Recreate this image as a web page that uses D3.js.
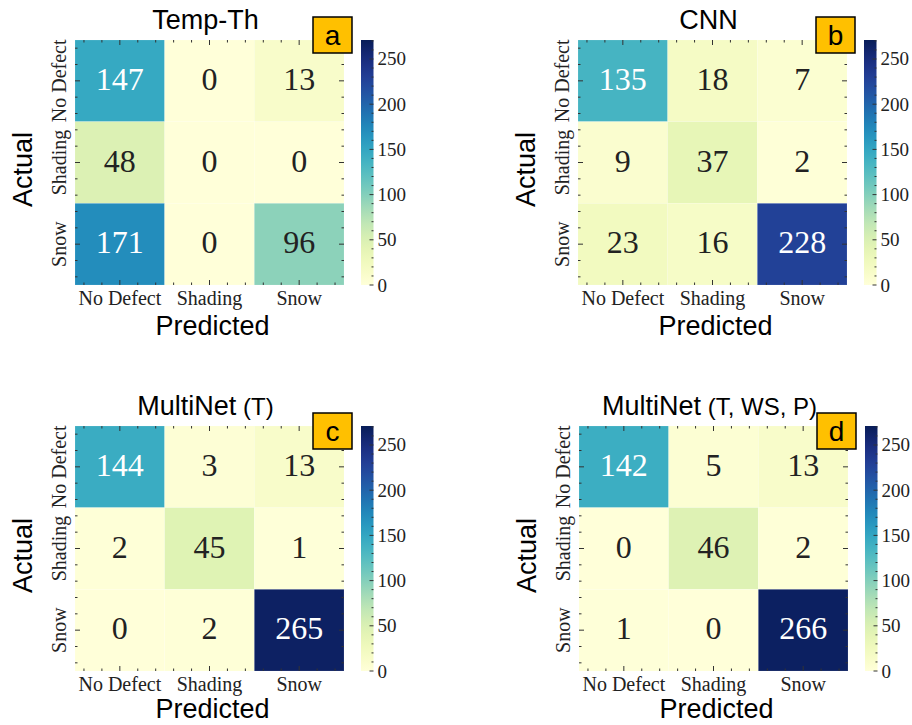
<!DOCTYPE html>
<html>
<head>
<meta charset="utf-8">
<script src="https://cdn.jsdelivr.net/npm/d3@7"></script>
<style>
  html, body { margin: 0; padding: 0; background: #fff; }
  svg { display: block; }
  .num { font-family: "Liberation Serif", serif; }
  .tick-label { font-family: "Liberation Serif", serif; fill: #222; }
  .ax-title { font-family: "Liberation Sans", Arial, sans-serif; fill: #000; }
</style>
</head>
<body>
<div id="chart"></div>
<script>
// Class names (rows = actual, columns = predicted)
var classes = ['No Defect', 'Shading', 'Snow'];

// Confusion matrices, one per model
var cmTempTh = [[147, 0, 13], [48, 0, 0], [171, 0, 96]];
var cmCNN = [[135, 18, 7], [9, 37, 2], [23, 16, 228]];
var cmMultiNetT = [[144, 3, 13], [2, 45, 1], [0, 2, 265]];
var cmMultiNetTWSP = [[142, 5, 13], [0, 46, 2], [1, 0, 266]];

var titleMain = ['Temp-Th', 'CNN', 'MultiNet', 'MultiNet'];
var titleSub = ['', '', '(T)', '(T, WS, P)'];
var panelTags = ['a', 'b', 'c', 'd'];
var matrices = [cmTempTh, cmCNN, cmMultiNetT, cmMultiNetTWSP];

var colorbarTicks = [0, 50, 100, 150, 200, 250];
var colorMax = 271;

// layout (heatmap top-left corner of each panel)
var layout = [
  {x: 75, y: 40, tagDy: -23},
  {x: 578, y: 40, tagDy: -23},
  {x: 75, y: 426, tagDy: -13},
  {x: 579, y: 426, tagDy: -13}
];

var W = 912, H = 725;
var hmW = 269, hmH = 245;

var svg = d3.select('#chart').append('svg')
  .attr('width', W)
  .attr('height', H);

var color = d3.scaleSequential(d3.interpolateYlGnBu).domain([0, colorMax]);

function luminance(c) {
  var rgb = d3.rgb(c);
  function f(v) {
    v = v / 255;
    return v <= 0.03928 ? v / 12.92 : Math.pow((v + 0.055) / 1.055, 2.4);
  }
  return 0.2126 * f(rgb.r) + 0.7152 * f(rgb.g) + 0.0722 * f(rgb.b);
}

// shared gradient for the colorbars
var defs = svg.append('defs');
var grad = defs.append('linearGradient')
  .attr('id', 'cbar-grad')
  .attr('x1', 0).attr('y1', 1).attr('x2', 0).attr('y2', 0);
d3.range(0, 1.0001, 0.05).forEach(function(t) {
  grad.append('stop')
    .attr('offset', t)
    .attr('stop-color', color(t * colorMax));
});

matrices.forEach(function(cm, idx) {
  var pos = layout[idx];
  var g = svg.append('g')
    .attr('transform', 'translate(' + pos.x + ',' + pos.y + ')');

  var x = d3.scaleBand().domain(classes).range([0, hmW]);
  var y = d3.scaleBand().domain(classes).range([0, hmH]);

  var cells = [];
  cm.forEach(function(row, ri) {
    row.forEach(function(v, ci) {
      cells.push({actual: classes[ri], predicted: classes[ci], value: v});
    });
  });

  g.selectAll('rect.cell')
    .data(cells)
    .enter()
    .append('rect')
    .attr('class', 'cell')
    .attr('x', function(d) { return x(d.predicted); })
    .attr('y', function(d) { return y(d.actual); })
    .attr('width', x.bandwidth())
    .attr('height', y.bandwidth())
    .attr('fill', function(d) { return color(d.value); })
    .attr('stroke', 'rgba(255,255,255,0.25)')
    .attr('stroke-width', 0.5);

  g.selectAll('text.num')
    .data(cells)
    .enter()
    .append('text')
    .attr('class', 'num')
    .attr('x', function(d) { return x(d.predicted) + x.bandwidth() / 2; })
    .attr('y', function(d) { return y(d.actual) + y.bandwidth() / 2 - 2; })
    .attr('text-anchor', 'middle')
    .attr('dominant-baseline', 'central')
    .attr('font-size', 32)
    .attr('fill', function(d) {
      return luminance(color(d.value)) > 0.408 ? '#222' : '#fff';
    })
    .text(function(d) { return d.value; });

  // inward ticks on all four sides (major at cell centers, minor every 0.2)
  var tx = d3.scaleLinear().domain([0, classes.length]).range([0, hmW]);
  var ty = d3.scaleLinear().domain([0, classes.length]).range([0, hmH]);
  var minor = d3.range(0.1, classes.length, 0.2).filter(function(t) {
    return Math.abs((t % 1) - 0.5) > 0.01;
  });
  var major = d3.range(0.5, classes.length, 1);
  var ticks = g.append('g')
    .attr('stroke', '#333')
    .attr('stroke-width', 1);
  [[major, 5], [minor, 2.5]].forEach(function(set) {
    var len = set[1];
    set[0].forEach(function(t) {
      ticks.append('line')
        .attr('x1', tx(t)).attr('x2', tx(t)).attr('y1', 0).attr('y2', len);
      ticks.append('line')
        .attr('x1', tx(t)).attr('x2', tx(t)).attr('y1', hmH).attr('y2', hmH - len);
      ticks.append('line')
        .attr('y1', ty(t)).attr('y2', ty(t)).attr('x1', 0).attr('x2', len);
      ticks.append('line')
        .attr('y1', ty(t)).attr('y2', ty(t)).attr('x1', hmW).attr('x2', hmW - len);
    });
  });

  // column labels
  g.selectAll('text.col')
    .data(classes)
    .enter()
    .append('text')
    .attr('class', 'tick-label')
    .attr('x', function(d) { return x(d) + x.bandwidth() / 2; })
    .attr('y', hmH + 20)
    .attr('text-anchor', 'middle')
    .attr('font-size', 20)
    .text(function(d) { return d; });

  // row labels (rotated)
  g.selectAll('text.row')
    .data(classes)
    .enter()
    .append('text')
    .attr('class', 'tick-label')
    .attr('transform', function(d) {
      return 'translate(-9,' + (y(d) + y.bandwidth() / 2) + ') rotate(-90)';
    })
    .attr('text-anchor', 'middle')
    .attr('font-size', 20)
    .text(function(d) { return d; });

  // axis titles (keep the bottom row's label inside the page)
  g.append('text')
    .attr('class', 'ax-title')
    .attr('x', hmW / 2 + 3)
    .attr('y', Math.min(hmH + 50, H - pos.y - 7))
    .attr('text-anchor', 'middle')
    .attr('font-size', 27)
    .text('Predicted');

  g.append('text')
    .attr('class', 'ax-title')
    .attr('transform', 'translate(-43,' + (hmH / 2 + 7) + ') rotate(-90)')
    .attr('text-anchor', 'middle')
    .attr('font-size', 27)
    .text('Actual');

  // panel title
  var title = g.append('text')
    .attr('class', 'ax-title')
    .attr('x', hmW / 2 - 4)
    .attr('y', -11)
    .attr('text-anchor', 'middle')
    .attr('font-size', 27);
  title.append('tspan').text(titleMain[idx]);
  if (titleSub[idx]) {
    title.append('tspan')
      .attr('font-size', 24)
      .text(' ' + titleSub[idx]);
  }

  // colorbar
  var cbX = 286, cbW = 12.5;
  var cy = d3.scaleLinear().domain([0, colorMax]).range([hmH, 0]);
  g.append('rect')
    .attr('x', cbX)
    .attr('y', 0)
    .attr('width', cbW)
    .attr('height', hmH)
    .attr('fill', 'url(#cbar-grad)');

  var cbTicks = g.append('g')
    .attr('stroke', '#333')
    .attr('stroke-width', 1);
  d3.range(0, colorMax, 10).forEach(function(v) {
    var len = v % 50 === 0 ? 4 : 2;
    cbTicks.append('line')
      .attr('x1', cbX + cbW).attr('x2', cbX + cbW - len)
      .attr('y1', cy(v)).attr('y2', cy(v));
  });

  g.selectAll('text.cb')
    .data(colorbarTicks)
    .enter()
    .append('text')
    .attr('class', 'tick-label')
    .attr('x', cbX + cbW + 4)
    .attr('y', function(d) { return cy(d); })
    .attr('dominant-baseline', 'central')
    .attr('font-size', 19)
    .text(function(d) { return d; });

  // panel tag
  var tag = g.append('g')
    .attr('transform', 'translate(238,' + pos.tagDy + ')');
  tag.append('rect')
    .attr('width', 39)
    .attr('height', 36)
    .attr('fill', '#ffc000')
    .attr('stroke', '#000')
    .attr('stroke-width', 1.5);
  tag.append('text')
    .attr('class', 'ax-title')
    .attr('x', 19.5)
    .attr('y', 18)
    .attr('text-anchor', 'middle')
    .attr('dominant-baseline', 'central')
    .attr('font-size', 28)
    .text(panelTags[idx]);
});
</script>
</body>
</html>
